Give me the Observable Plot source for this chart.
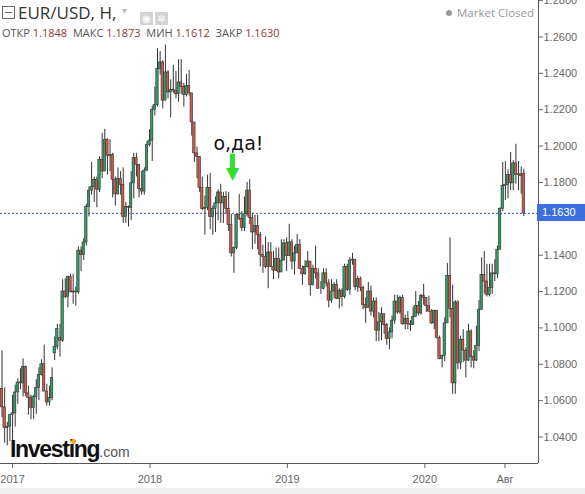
<!DOCTYPE html>
<html><head><meta charset="utf-8">
<script src="https://cdn.jsdelivr.net/npm/d3@7"></script>
<script src="https://cdn.jsdelivr.net/npm/@observablehq/plot@0.6"></script>
<style>
html,body{margin:0;padding:0;background:#fff;}
#wrap{position:relative;width:585px;height:494px;overflow:hidden;font-family:"Liberation Sans",Arial,sans-serif;}
#wrap svg{position:absolute;left:0;top:0;}
.ov{position:absolute;white-space:nowrap;}
</style></head><body><div id="wrap"></div>
<script>
// Weekly EUR/USD candles, first week starting 2016-12-04
const firstWeek = "2016-12-04";
const opens = [
1.0665,1.0563,1.0450,1.0455,
1.0520,1.0530,1.0645,1.0700,1.0695,1.0785,1.0640,1.0615,1.0560,1.0620,1.0670,1.0740,1.0800,1.0650,1.0590,1.0615,
1.0860,1.0895,1.0945,1.0930,1.1200,1.1170,1.1280,1.1195,1.1200,1.1195,1.1425,1.1400,1.1470,1.1665,1.1755,1.1775,
1.1815,1.1760,1.1925,1.1860,1.2035,1.1945,1.1950,1.1815,1.1735,1.1820,1.1785,1.1610,1.1665,1.1660,1.1795,1.1935,
1.1895,1.1765,1.1750,1.1865,
1.2005,1.2030,1.2200,1.2225,1.2425,1.2460,1.2250,1.2405,1.2295,1.2310,1.2305,1.2285,1.2350,1.2325,1.2280,1.2330,
1.2290,1.2130,1.1960,1.1940,1.1770,1.1655,1.1660,1.1770,1.1610,1.1655,1.1685,1.1745,1.1685,1.1720,1.1655,1.1565,
1.1410,1.1440,1.1620,1.1600,1.1550,1.1625,1.1755,1.1605,1.1525,1.1560,1.1510,1.1400,1.1390,1.1335,1.1415,1.1335,
1.1315,1.1380,1.1305,1.1370,
1.1465,1.1395,1.1470,1.1365,1.1410,1.1455,1.1325,1.1295,1.1335,1.1365,1.1235,1.1325,1.1300,1.1215,1.1215,1.1300,
1.1245,1.1150,1.1200,1.1235,1.1160,1.1205,1.1170,1.1335,1.1210,1.1370,1.1375,1.1225,1.1270,1.1220,1.1125,1.1110,
1.1200,1.1090,1.1145,1.0985,1.1030,1.1075,1.1015,1.0940,1.0975,1.1040,1.1145,1.1085,1.1165,1.1020,1.1050,1.1020,
1.1015,1.1060,1.1120,1.1080,
1.1175,1.1165,1.1120,1.1090,1.1025,1.1095,1.0945,1.0830,1.0845,1.1025,1.1285,1.1105,1.0695,1.1140,1.0805,1.0935,
1.0875,1.0820,1.0980,1.0840,1.0820,1.0900,1.1100,1.1290,1.1255,1.1180,1.1220,1.1300,1.1295,1.1430,1.1655,1.1780,
1.1785,1.1840,1.1795,1.1905,1.1840,1.1845,1.1848];
const highs = [
1.0874,1.0670,1.0480,1.0500,
1.0630,1.0685,1.0720,1.0775,1.0830,1.0790,1.0680,1.0630,1.0630,1.0715,1.0780,1.0825,1.0905,1.0690,1.0680,1.0780,
1.0950,1.1020,1.1020,1.1265,1.1270,1.1285,1.1295,1.1295,1.1225,1.1445,1.1445,1.1490,1.1680,1.1775,1.1910,1.1830,
1.1830,1.1940,1.2070,1.2092,1.2040,1.2035,1.1960,1.1830,1.1880,1.1860,1.1880,1.1690,1.1670,1.1860,1.1960,1.1960,
1.1900,1.1860,1.1880,1.2025,
1.2090,1.2220,1.2325,1.2535,1.2520,1.2470,1.2555,1.2415,1.2365,1.2445,1.2410,1.2475,1.2475,1.2345,1.2395,1.2415,
1.2290,1.2130,1.1995,1.1940,1.1830,1.1725,1.1840,1.1850,1.1670,1.1720,1.1760,1.1790,1.1745,1.1750,1.1745,1.1625,
1.1445,1.1625,1.1735,1.1640,1.1720,1.1800,1.1815,1.1630,1.1620,1.1620,1.1525,1.1455,1.1500,1.1470,1.1470,1.1420,
1.1440,1.1440,1.1485,1.1485,
1.1495,1.1570,1.1485,1.1450,1.1515,1.1485,1.1340,1.1370,1.1420,1.1365,1.1345,1.1450,1.1325,1.1255,1.1325,1.1325,
1.1265,1.1265,1.1250,1.1265,1.1215,1.1215,1.1350,1.1350,1.1385,1.1410,1.1375,1.1285,1.1280,1.1230,1.1165,1.1250,
1.1230,1.1165,1.1165,1.1085,1.1110,1.1075,1.1025,1.1000,1.1065,1.1180,1.1180,1.1175,1.1180,1.1070,1.1090,1.1040,
1.1115,1.1200,1.1145,1.1185,
1.1240,1.1165,1.1175,1.1100,1.1095,1.1095,1.0955,1.0850,1.1055,1.1355,1.1495,1.1235,1.1150,1.1150,1.0955,1.0990,
1.0890,1.1020,1.0990,1.0875,1.1010,1.1150,1.1385,1.1420,1.1350,1.1350,1.1350,1.1375,1.1450,1.1660,1.1910,1.1915,
1.1870,1.1965,1.1920,1.2010,1.1915,1.1885,1.1873];
const lows = [
1.0505,1.0366,1.0352,1.0375,
1.0340,1.0455,1.0580,1.0660,1.0620,1.0620,1.0520,1.0495,1.0495,1.0525,1.0600,1.0735,1.0650,1.0570,1.0570,1.0600,
1.0820,1.0880,1.0840,1.0920,1.1160,1.1110,1.1195,1.1130,1.1120,1.1185,1.1310,1.1370,1.1450,1.1610,1.1730,1.1690,
1.1660,1.1745,1.1820,1.1860,1.1840,1.1860,1.1715,1.1670,1.1730,1.1730,1.1575,1.1575,1.1555,1.1590,1.1710,1.1830,
1.1715,1.1730,1.1730,1.1860,
1.1995,1.1915,1.2165,1.2215,1.2390,1.2205,1.2250,1.2260,1.2155,1.2290,1.2260,1.2240,1.2285,1.2215,1.2270,1.2275,
1.2055,1.1910,1.1820,1.1745,1.1645,1.1510,1.1645,1.1540,1.1510,1.1525,1.1590,1.1575,1.1575,1.1625,1.1530,1.1390,
1.1300,1.1430,1.1590,1.1530,1.1530,1.1610,1.1570,1.1430,1.1460,1.1430,1.1335,1.1300,1.1325,1.1215,1.1335,1.1265,
1.1310,1.1270,1.1305,1.1370,
1.1310,1.1395,1.1320,1.1290,1.1410,1.1325,1.1235,1.1290,1.1330,1.1175,1.1230,1.1270,1.1215,1.1185,1.1210,1.1225,
1.1110,1.1135,1.1160,1.1155,1.1105,1.1115,1.1160,1.1200,1.1180,1.1345,1.1205,1.1195,1.1200,1.1100,1.1025,1.1110,
1.1065,1.1055,1.0925,1.0925,1.0930,1.0965,1.0905,1.0880,1.0940,1.1020,1.1075,1.1075,1.1015,1.0990,1.0990,1.0980,
1.1015,1.1060,1.1065,1.1070,
1.1125,1.1085,1.1085,1.1020,1.0990,1.0940,1.0825,1.0780,1.0815,1.1025,1.1055,1.0635,1.0635,1.0770,1.0770,1.0810,
1.0725,1.0815,1.0780,1.0775,1.0815,1.0870,1.1095,1.1185,1.1170,1.1170,1.1185,1.1255,1.1270,1.1430,1.1640,1.1700,
1.1710,1.1755,1.1755,1.1790,1.1755,1.1735,1.1612];
const closes = [
1.0563,1.0450,1.0455,1.0520,
1.0530,1.0645,1.0700,1.0695,1.0785,1.0640,1.0615,1.0560,1.0620,1.0670,1.0740,1.0800,1.0650,1.0590,1.0615,1.0725,
1.0895,1.0995,1.0930,1.1200,1.1170,1.1280,1.1195,1.1200,1.1195,1.1425,1.1400,1.1470,1.1665,1.1755,1.1775,1.1815,
1.1760,1.1925,1.1860,1.2035,1.1945,1.1950,1.1815,1.1735,1.1820,1.1785,1.1610,1.1665,1.1660,1.1795,1.1935,1.1895,
1.1765,1.1750,1.1865,1.2005,
1.2030,1.2200,1.2225,1.2425,1.2460,1.2250,1.2405,1.2295,1.2310,1.2305,1.2285,1.2350,1.2325,1.2280,1.2330,1.2290,
1.2130,1.1960,1.1940,1.1770,1.1655,1.1660,1.1770,1.1610,1.1655,1.1685,1.1745,1.1685,1.1720,1.1655,1.1565,1.1410,
1.1440,1.1620,1.1600,1.1550,1.1625,1.1755,1.1605,1.1525,1.1560,1.1510,1.1400,1.1390,1.1335,1.1415,1.1335,1.1315,
1.1380,1.1305,1.1370,1.1465,
1.1395,1.1470,1.1365,1.1410,1.1455,1.1325,1.1295,1.1335,1.1365,1.1235,1.1325,1.1300,1.1215,1.1215,1.1300,1.1245,
1.1150,1.1200,1.1235,1.1160,1.1205,1.1170,1.1335,1.1210,1.1370,1.1375,1.1225,1.1270,1.1220,1.1125,1.1110,1.1200,
1.1090,1.1145,1.0985,1.1030,1.1075,1.1015,1.0940,1.0975,1.1040,1.1145,1.1085,1.1165,1.1020,1.1050,1.1020,1.1015,
1.1060,1.1120,1.1080,1.1175,
1.1165,1.1120,1.1090,1.1025,1.1095,1.0945,1.0830,1.0845,1.1025,1.1285,1.1105,1.0695,1.1140,1.0805,1.0935,1.0875,
1.0820,1.0980,1.0840,1.0820,1.0900,1.1100,1.1290,1.1255,1.1180,1.1220,1.1300,1.1295,1.1430,1.1655,1.1780,1.1785,
1.1840,1.1795,1.1905,1.1840,1.1845,1.1835,1.1630];

const xDomain = ["2016-11-30", "2020-10-29"];
const yDomain = [1.02543, 1.28007];
const yTicks = [1.04,1.06,1.08,1.10,1.12,1.14,1.16,1.18,1.20,1.22,1.24,1.26,1.28];
const xTickDates = ["2017-01-01","2018-01-01","2019-01-01","2020-01-01","2020-08-01"];
const xTickLabels = ["2017","2018","2019","2020","Авг"];
const lastPrice = 1.1630;
const ohlcLabels = ["ОТКР","МАКС","МИН","ЗАКР"];
const ohlcValues = ["1.1848","1.1873","1.1612","1.1630"];
const noteText = ["о,да!"];
const noteDate = ["2018-08-24"];
const notePrice = [1.2014];
const arrowDate = ["2018-08-08"];
const arrowTop = [1.1956];
const arrowShaftEnd = [1.1872];
const arrowHead = [1.1848];

const GREEN = "#2f9e68", RED = "#d85646";
const candles = closes.map((c, i) => ({
  date: d3.utcDay.offset(new Date(firstWeek), 7 * i),
  open: opens[i], high: highs[i], low: lows[i], close: c
}));
const tickDates = xTickDates.map(s => new Date(s));
const halfBody = 3.2 * 24; // hours
const notes = noteText.map((t, i) => ({text: t, date: new Date(noteDate[i]), price: notePrice[i]}));
const arrows = arrowDate.map((d, i) => ({date: new Date(d), top: arrowTop[i], end: arrowShaftEnd[i], head: arrowHead[i]}));
// the last-price tag covers the 1.1600 label, as in the original
const fmt = d3.format(".4f");
const yFmt = d => Math.abs(d - 1.16) < 1e-9 ? "" : fmt(d);

const plot = Plot.plot({
  width: 585, height: 494,
  marginLeft: 0, marginRight: 47, marginTop: 0, marginBottom: 31,
  style: {fontFamily: "Liberation Sans, Arial, sans-serif", fontSize: "11px", color: "#666", background: "transparent", overflow: "visible"},
  x: {type: "utc", domain: xDomain.map(s => new Date(s)), ticks: tickDates,
      tickFormat: d => xTickLabels[tickDates.findIndex(t => +t === +d)], tickSize: 5, tickPadding: 7, label: null},
  y: {domain: yDomain, axis: "right", ticks: yTicks, tickFormat: yFmt, tickSize: 4, tickPadding: 1, label: null},
  marks: [
    Plot.ruleY([lastPrice], {stroke: "#3355cc", strokeDasharray: "2,2", strokeWidth: 1}),
    Plot.ruleX(candles, {x: "date", y1: "low", y2: "high", stroke: "#333", strokeWidth: 1}),
    Plot.rect(candles, {
      x1: d => d3.utcHour.offset(d.date, -halfBody), x2: d => d3.utcHour.offset(d.date, halfBody),
      y1: "open", y2: "close",
      fill: d => d.close >= d.open ? GREEN : RED, stroke: "#333", strokeWidth: 0.6
    }),
    Plot.ruleY([yDomain[0]], {stroke: "#555", strokeWidth: 1}),
    Plot.ruleX([new Date(xDomain[1])], {stroke: "#555", strokeWidth: 1}),
    Plot.text(notes, {x: "date", y: "price", text: "text", fill: "#111", fontSize: 19, fontFamily: "DejaVu Sans, sans-serif"}),
    Plot.ruleX(arrows, {x: "date", y1: "top", y2: "end", stroke: "#2fe02f", strokeWidth: 5}),
    Plot.text(arrows, {x: "date", y: "head", text: d => "▼", fill: "#2fe02f", fontSize: 17, fontFamily: "DejaVu Sans, sans-serif"})
  ]
});

const wrap = document.getElementById("wrap");
wrap.appendChild(plot);
const ys = plot.scale("y");
const yLast = ys.apply(lastPrice);

// Header overlays
const add = (html, css) => { const d = document.createElement("div"); d.className = "ov"; d.style.cssText = css; d.innerHTML = html; wrap.appendChild(d); return d; };
add('<span style="display:inline-block;width:11px;height:11px;border:1px solid #666;position:relative;"><span style="position:absolute;left:2px;right:2px;top:5px;height:1px;background:#666"></span></span>', "left:2px;top:6px;line-height:0;");
add('EUR/USD, Н,', 'left:18px;top:1px;font-family:"Open Sans",sans-serif;font-size:17px;color:#333;');
add('▾', 'left:122px;top:5px;font-family:"DejaVu Sans",sans-serif;font-size:10px;color:#bbb;');
add('<span style="display:inline-block;width:13px;height:13px;background:#d4d4d4;margin-right:2px;color:#fff;font-size:10px;line-height:13px;text-align:center;">◉</span><span style="display:inline-block;width:13px;height:13px;background:#d4d4d4;color:#fff;font-size:10px;line-height:13px;text-align:center;">✲</span>', 'left:140px;top:7px;font-family:"DejaVu Sans",sans-serif;');
add(ohlcLabels.map((l, i) => `<span style="color:#555">${l}</span> <span style="color:#8e3a2c">${ohlcValues[i]}</span>`).join('&nbsp;&nbsp;'),
    'left:2px;top:25px;font-family:"Open Sans",sans-serif;font-size:11px;color:#555;');
add('<span style="display:inline-block;width:6px;height:6px;border-radius:3px;background:#999;margin-right:5px;vertical-align:1px;"></span>Market Closed',
    'left:446px;top:5px;font-family:"Open Sans",sans-serif;font-size:11.5px;color:#999;');
// last price tag
add(fmt(lastPrice), `left:537px;top:${yLast - 8.5}px;width:48px;height:17px;line-height:17px;background:#3b6fe0;color:#fff;font-size:11px;padding-left:5px;box-sizing:border-box;`);
// logo
add('<span style="font-weight:bold;font-size:23px;letter-spacing:-1.3px;color:#111;">Investing</span><span style="font-size:14px;color:#555;">.com</span>',
    'left:10px;top:436px;font-family:"Liberation Sans",Arial,sans-serif;');
add('', 'left:71px;top:439px;width:5px;height:5px;border-radius:3px;background:#f5a623;');
// bottom gray strip
add('', 'left:0;top:488px;width:585px;height:6px;background:#eeeeee;');
</script></body></html>
